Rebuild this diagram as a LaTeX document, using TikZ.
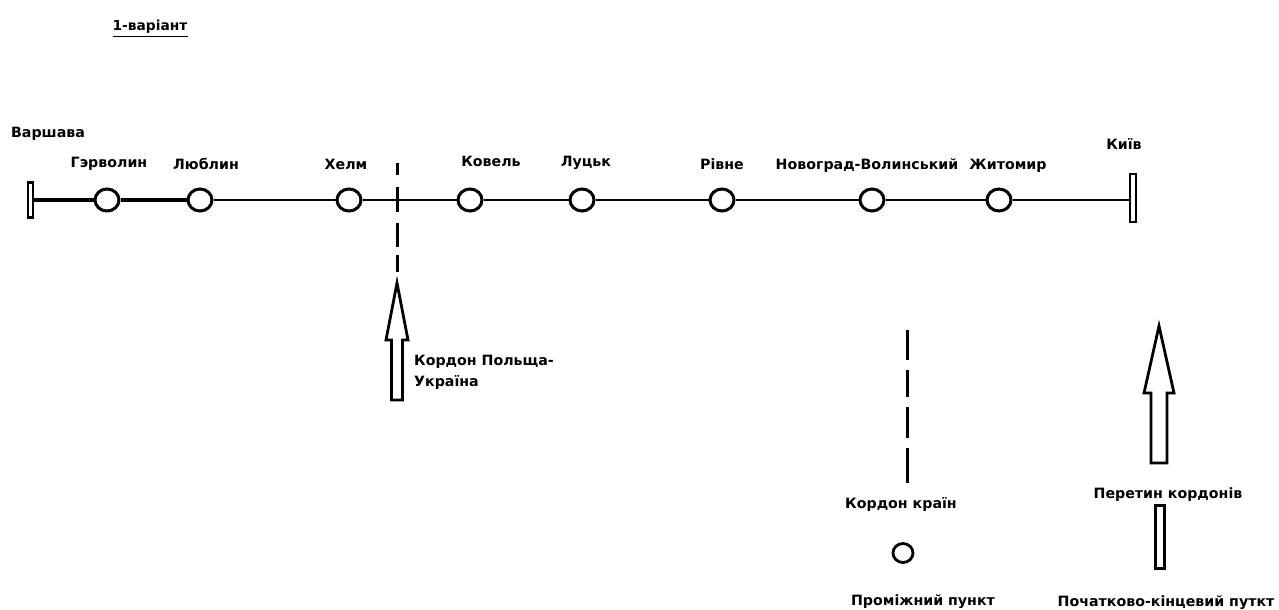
\documentclass[tikz,border=0pt]{standalone}
\usepackage{fontspec}
\setmainfont{DejaVu Sans}
\usetikzlibrary{shapes.geometric}
\begin{document}
\begin{tikzpicture}[x=1pt,y=-1pt,
  lbl/.style={font=\bfseries\fontsize{14.2}{16}\selectfont, inner sep=0pt, anchor=base},
  stn/.style={draw, ellipse, line width=3pt, minimum width=24pt, minimum height=22pt, inner sep=0pt},
  term/.style={draw, rectangle, line width=2.4pt, inner sep=0pt},
  route/.style={line width=2.4pt},
  border/.style={line width=3pt},
  bigarrow/.style={draw, line width=2.8pt, line join=miter, fill=white}]
\useasboundingbox (0,0) rectangle (1279,610);

% title
\node[lbl, font=\bfseries\fontsize{13.8}{15}\selectfont] (title) at (150,31) {1-варіант};
\draw[line width=1.6pt] (113,36.5) -- (188,36.5);

% terminals
\node[term, minimum width=5pt, minimum height=35pt] (war) at (30.5,200) {};
\node[term, minimum width=6pt, minimum height=48pt] (kyiv) at (1133,198) {};

% stations
\node[stn] (garv) at (107,200) {};
\node[stn] (lub) at (200,200) {};
\node[stn] (helm) at (349,200) {};
\node[stn] (kov) at (470,200) {};
\node[stn] (luck) at (582,200) {};
\node[stn] (rivne) at (722,200) {};
\node[stn] (nov) at (872,200) {};
\node[stn] (zhyt) at (999,200) {};

% route
\draw[route, line width=4pt] (war.east) -- (garv.west);
\draw[route, line width=3.6pt] (garv.east) -- (lub.west);
\draw[route] (lub.east) -- (helm.west);
\draw[route] (helm.east) -- (kov.west);
\draw[route] (kov.east) -- (luck.west);
\draw[route] (luck.east) -- (rivne.west);
\draw[route] (rivne.east) -- (nov.west);
\draw[route] (nov.east) -- (zhyt.west);
\draw[route] (zhyt.east) -- (zhyt.east -| kyiv.west);

% labels
\node[lbl] (lwar) at (48,137) {Варшава};
\node[lbl] (lgarv) at (109,167) {Гэрволин};
\node[lbl] (llub) at (206,169) {Люблин};
\node[lbl] (lhelm) at (346,169) {Хелм};
\node[lbl] (lkov) at (491,166) {Ковель};
\node[lbl] (lluck) at (586,166) {Луцьк};
\node[lbl] (lrivne) at (722,169) {Рівне};
\node[lbl] (lnov) at (867,169) {Новоград-Волинський};
\node[lbl] (lzhyt) at (1008,169) {Житомир};
\node[lbl] (lkyiv) at (1124,149) {Київ};

% border Poland-Ukraine
\coordinate (b1) at (397,163);
\coordinate (b2) at (397,272);
\draw[border, dash pattern=on 12pt off 12pt on 25pt off 11pt on 24pt off 8pt on 17pt off 20pt] (b1) -- (b2);
\draw[bigarrow] (397,283) -- (408,340) -- (402.5,340) -- (402.5,400) -- (391.5,400) -- (391.5,340) -- (386,340) -- cycle;
\node[lbl, anchor=base west] (lbord1) at (414,365) {Кордон Польща-};
\node[lbl, anchor=base west] (lbord2) at (414,386) {Україна};

% legend
\coordinate (d1) at (907,330);
\coordinate (d2) at (907,483);
\draw[border, dash pattern=on 30pt off 10pt on 27pt off 10pt on 31pt off 10pt on 35pt off 10pt] (d1) -- (d2);
\node[lbl] (lborder) at (901,508) {Кордон країн};
\node[stn, minimum width=20pt, minimum height=19pt, line width=2.8pt] (legc) at (903,553) {};
\node[lbl] (lpoint) at (923,605) {Проміжний пункт};

\draw[bigarrow] (1159,326) -- (1174,393) -- (1167,393) -- (1167,463) -- (1151,463) -- (1151,393) -- (1144,393) -- cycle;
\node[lbl] (lcross) at (1168,498) {Перетин кордонів};
\node[term, line width=2.2pt, minimum width=9pt, minimum height=63pt] (legterm) at (1160,537) {};
\node[lbl] (lend) at (1166,606) {Початково-кінцевий путкт};
\end{tikzpicture}
\end{document}
